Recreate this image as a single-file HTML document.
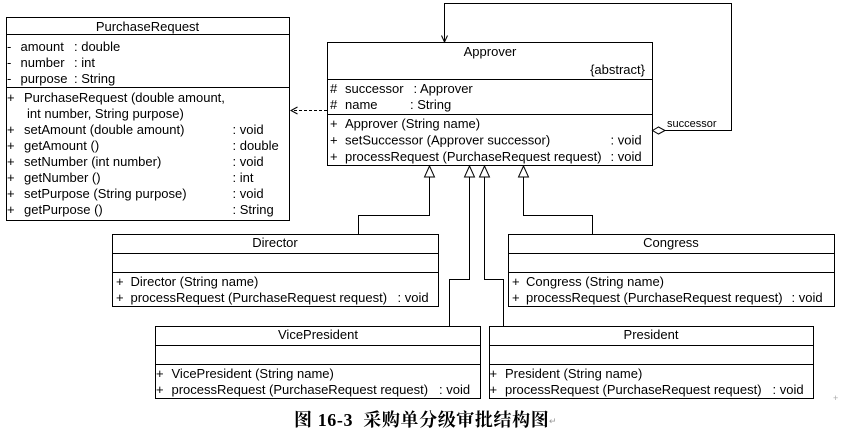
<!DOCTYPE html>
<html><head><meta charset="utf-8"><style>
html,body{margin:0;padding:0;background:#fff;}
svg{display:block;}
text{font-family:"Liberation Sans",Arial,sans-serif;font-size:13px;fill:#000;}
.s{font-size:11px;}
.cap{font-family:"Liberation Serif","Noto Serif CJK SC",serif;font-size:18px;font-weight:bold;letter-spacing:0.6px;}
</style></head><body>
<svg width="841" height="432" viewBox="0 0 841 432" xmlns="http://www.w3.org/2000/svg">
<rect width="841" height="432" fill="#fff"/>
<g fill="none" stroke="#000" stroke-width="1">
<!-- PurchaseRequest -->
<rect x="6.5" y="17.5" width="283" height="203"/>
<line x1="6.5" y1="34.5" x2="289.5" y2="34.5"/>
<line x1="6.5" y1="87.5" x2="289.5" y2="87.5"/>
<!-- Approver -->
<rect x="327.5" y="42.5" width="325" height="123"/>
<line x1="327.5" y1="79.5" x2="652.5" y2="79.5"/>
<line x1="327.5" y1="114.5" x2="652.5" y2="114.5"/>
<!-- Director -->
<rect x="112.5" y="234.5" width="326" height="72"/>
<line x1="112.5" y1="253.5" x2="438.5" y2="253.5"/>
<line x1="112.5" y1="272.5" x2="438.5" y2="272.5"/>
<!-- Congress -->
<rect x="508.5" y="234.5" width="326" height="72"/>
<line x1="508.5" y1="253.5" x2="834.5" y2="253.5"/>
<line x1="508.5" y1="272.5" x2="834.5" y2="272.5"/>
<!-- VicePresident -->
<rect x="155.5" y="326.5" width="325" height="72"/>
<line x1="155.5" y1="345.5" x2="480.5" y2="345.5"/>
<line x1="155.5" y1="364.5" x2="480.5" y2="364.5"/>
<!-- President -->
<rect x="489.5" y="326.5" width="324" height="72"/>
<line x1="489.5" y1="345.5" x2="813.5" y2="345.5"/>
<line x1="489.5" y1="364.5" x2="813.5" y2="364.5"/>

<!-- dependency -->
<line x1="327" y1="110.5" x2="292" y2="110.5" stroke-dasharray="3,2"/>
<polyline points="297.5,107 291,110.5 297.5,114"/>

<!-- self association -->
<polyline points="665,130.5 731.5,130.5 731.5,3.5 444.5,3.5 444.5,42"/>
<polyline points="441.5,35.5 444.5,42 447.5,35.5"/>
<polygon points="652.5,130.5 658.5,127 665,130.5 658.5,134" fill="#fff"/>

<!-- generalizations -->
<polyline points="358.5,234 358.5,215.5 429.5,215.5 429.5,177"/>
<polyline points="592.5,234 592.5,215.5 523.5,215.5 523.5,177"/>
<polyline points="449.5,326 449.5,279.5 469.5,279.5 469.5,177"/>
<polyline points="503.5,326 503.5,279.5 484.5,279.5 484.5,177"/>
<polygon points="429.5,166 424.5,177 434.5,177" fill="#fff"/>
<polygon points="469.5,166 464.5,177 474.5,177" fill="#fff"/>
<polygon points="484.5,166 479.5,177 489.5,177" fill="#fff"/>
<polygon points="523.5,166 518.5,177 528.5,177" fill="#fff"/>
</g>

<!-- PurchaseRequest text -->
<text x="147.5" y="31" text-anchor="middle">PurchaseRequest</text>
<text x="7" y="51">-</text><text x="20.5" y="51">amount</text><text x="74" y="51">: double</text>
<text x="7" y="67">-</text><text x="20.5" y="67">number</text><text x="74" y="67">: int</text>
<text x="7" y="83">-</text><text x="20.5" y="83">purpose</text><text x="74" y="83">: String</text>
<text x="7" y="102">+</text><text x="24" y="102">PurchaseRequest (double amount,</text>
<text x="27" y="118">int number, String purpose)</text>
<text x="7" y="134">+</text><text x="24" y="134">setAmount (double amount)</text><text x="232.5" y="134">: void</text>
<text x="7" y="150">+</text><text x="24" y="150">getAmount ()</text><text x="232.5" y="150">: double</text>
<text x="7" y="166">+</text><text x="24" y="166">setNumber (int number)</text><text x="232.5" y="166">: void</text>
<text x="7" y="182">+</text><text x="24" y="182">getNumber ()</text><text x="232.5" y="182">: int</text>
<text x="7" y="198">+</text><text x="24" y="198">setPurpose (String purpose)</text><text x="232.5" y="198">: void</text>
<text x="7" y="214">+</text><text x="24" y="214">getPurpose ()</text><text x="232.5" y="214">: String</text>

<!-- Approver text -->
<text x="490" y="56" text-anchor="middle">Approver</text>
<text x="645" y="74" text-anchor="end">{abstract}</text>
<text x="330" y="93">#</text><text x="345" y="93">successor</text><text x="413.5" y="93">: Approver</text>
<text x="330" y="109">#</text><text x="345" y="109">name</text><text x="410" y="109">: String</text>
<text x="330" y="128">+</text><text x="345" y="128">Approver (String name)</text>
<text x="330" y="144.5">+</text><text x="345" y="144.5">setSuccessor (Approver successor)</text><text x="610.5" y="144.5">: void</text>
<text x="330" y="161">+</text><text x="345" y="161">processRequest (PurchaseRequest request)</text><text x="610.5" y="161">: void</text>
<text class="s" x="667" y="127">successor</text>

<!-- Director -->
<text x="275" y="247" text-anchor="middle">Director</text>
<text x="116" y="286">+</text><text x="130.5" y="286">Director (String name)</text>
<text x="116" y="302">+</text><text x="130.5" y="302">processRequest (PurchaseRequest request)</text><text x="397.5" y="302">: void</text>

<!-- Congress -->
<text x="671" y="247" text-anchor="middle">Congress</text>
<text x="512" y="286">+</text><text x="526" y="286">Congress (String name)</text>
<text x="512" y="302">+</text><text x="526" y="302">processRequest (PurchaseRequest request)</text><text x="791.5" y="302">: void</text>

<!-- VicePresident -->
<text x="318" y="339" text-anchor="middle">VicePresident</text>
<text x="156" y="378">+</text><text x="171.5" y="378">VicePresident (String name)</text>
<text x="156" y="394">+</text><text x="171.5" y="394">processRequest (PurchaseRequest request)</text><text x="439" y="394">: void</text>

<!-- President -->
<text x="651" y="339" text-anchor="middle">President</text>
<text x="489.5" y="378">+</text><text x="505" y="378">President (String name)</text>
<text x="489.5" y="394">+</text><text x="505" y="394">processRequest (PurchaseRequest request)</text><text x="772.5" y="394">: void</text>

<!-- caption -->
<text class="cap" x="294" y="426" xml:space="preserve">图 16-3  采购单分级审批结构图</text>
<text x="549" y="424" style="font-size:9px;fill:#999">↵</text>
<text x="833" y="401" style="font-size:9px;fill:#aaa">+</text>
</svg>
</body></html>
